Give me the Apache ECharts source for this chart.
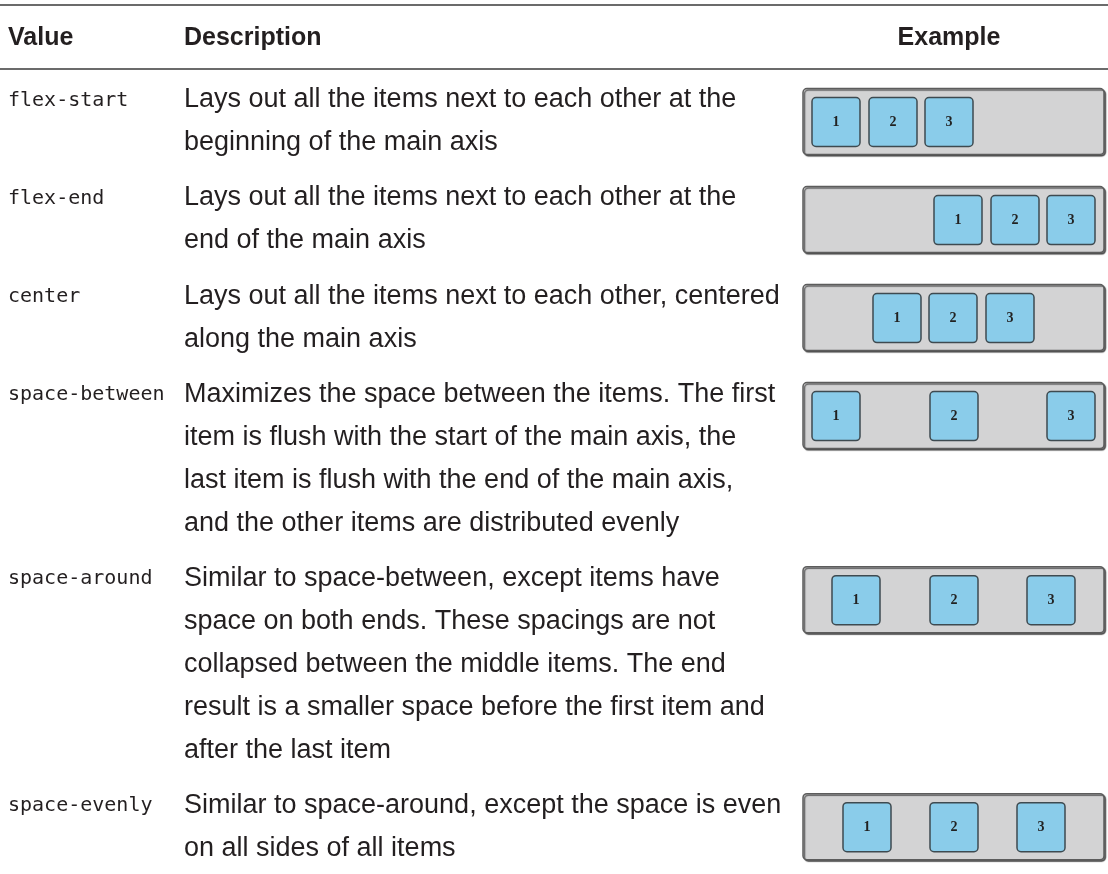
<!DOCTYPE html>
<html>
<head>
<meta charset="utf-8">
<script src="https://cdn.jsdelivr.net/npm/echarts@6/dist/echarts.min.js"></script>
<style>
html,body{margin:0;padding:0;background:#fff;}
#main{width:1108px;height:874px;}
</style>
</head>
<body>
<div id="main"></div>
<script>
// ---- data ----
const headers = ['Value', 'Description', 'Example'];
const values = ['flex-start', 'flex-end', 'center', 'space-between', 'space-around', 'space-evenly'];
const descFlexStart = ['Lays out all the items next to each other at the', 'beginning of the main axis'];
const descFlexEnd = ['Lays out all the items next to each other at the', 'end of the main axis'];
const descCenter = ['Lays out all the items next to each other, centered', 'along the main axis'];
const descSpaceBetween = ['Maximizes the space between the items. The first', 'item is flush with the start of the main axis, the', 'last item is flush with the end of the main axis,', 'and the other items are distributed evenly'];
const descSpaceAround = ['Similar to space-between, except items have', 'space on both ends. These spacings are not', 'collapsed between the middle items. The end', 'result is a smaller space before the first item and', 'after the last item'];
const descSpaceEvenly = ['Similar to space-around, except the space is even', 'on all sides of all items'];
const descriptions = [descFlexStart, descFlexEnd, descCenter, descSpaceBetween, descSpaceAround, descSpaceEvenly];
// left offset (px inside the 301px example container) of items 1, 2, 3
const offsFlexStart = [9, 66, 122];
const offsFlexEnd = [131, 188, 244];
const offsCenter = [70, 126, 183];
const offsSpaceBetween = [9, 127, 244];
const offsSpaceAround = [29, 127, 224];
const offsSpaceEvenly = [40, 127, 214];
const itemOffsets = [offsFlexStart, offsFlexEnd, offsCenter, offsSpaceBetween, offsSpaceAround, offsSpaceEvenly];
const itemLabels = ['1', '2', '3'];

// ---- layout ----
const W = 1108, H = 874;
const LINE = 43;          // px per text line
const FIRST = 100;        // px of first body line centre
const ROWGAP = 0.28;      // extra gap between rows, in line units
const BOX_W = 301;
const COL_VALUE = 8, COL_DESC = 184, BOX_LEFT = 803;
const TXT = '#231f20';

// row start in line units
const rowStart = [];
let acc = 0;
descriptions.forEach((d, i) => { rowStart.push(acc); acc += d.length + ROWGAP; });

const textData = [];
values.forEach((v, i) => {
  textData.push([COL_VALUE, rowStart[i], v, 'mono']);
  descriptions[i].forEach((line, j) => textData.push([COL_DESC, rowStart[i] + j, line, 'body']));
});
const boxData = values.map((v, i) => [0, rowStart[i] + 0.5, i]);

const yMin = -FIRST / LINE, yMax = (H - FIRST) / LINE;

const chart = echarts.init(document.getElementById('main'), null, {renderer: 'canvas'});
chart.setOption({
  animation: false,
  backgroundColor: '#fff',
  grid: [
    {left: 0, top: 0, width: W, height: H},
    {left: BOX_LEFT, top: 0, width: BOX_W, height: H}
  ],
  xAxis: [
    {gridIndex: 0, type: 'value', min: 0, max: W, show: false},
    {gridIndex: 1, type: 'value', min: 0, max: BOX_W, show: false}
  ],
  yAxis: [
    {gridIndex: 0, type: 'value', min: yMin, max: yMax, inverse: true, show: false},
    {gridIndex: 1, type: 'value', min: yMin, max: yMax, inverse: true, show: false}
  ],
  graphic: [
    {type: 'line', shape: {x1: 0, y1: 5, x2: W, y2: 5}, style: {stroke: '#3a3a3a', lineWidth: 1.6}},
    {type: 'line', shape: {x1: 0, y1: 69, x2: W, y2: 69}, style: {stroke: '#3a3a3a', lineWidth: 1.6}},
    {type: 'text', x: COL_VALUE, y: 38, style: {text: headers[0], font: 'bold 25px "Liberation Sans"', fill: TXT, verticalAlign: 'middle'}},
    {type: 'text', x: COL_DESC, y: 38, style: {text: headers[1], font: 'bold 25px "Liberation Sans"', fill: TXT, verticalAlign: 'middle'}},
    {type: 'text', x: 949, y: 38, style: {text: headers[2], font: 'bold 25px "Liberation Sans"', fill: TXT, align: 'center', verticalAlign: 'middle'}}
  ],
  series: [
    {
      type: 'custom', xAxisIndex: 0, yAxisIndex: 0, data: textData,
      renderItem: function (params, api) {
        const p = api.coord([api.value(0), api.value(1)]);
        const d = textData[params.dataIndex];
        return {
          type: 'text', x: p[0], y: p[1] + (d[3] === 'mono' ? 1 : 0),
          style: {
            text: d[2],
            font: d[3] === 'mono' ? '20px "DejaVu Sans Mono"' : '27px "Liberation Sans"',
            fill: TXT, verticalAlign: 'middle'
          }
        };
      }
    },
    {
      type: 'custom', xAxisIndex: 1, yAxisIndex: 1, data: boxData,
      renderItem: function (params, api) {
        const row = boxData[params.dataIndex][2];
        const yc = api.value(1);
        const l = api.coord([0, yc]);
        const r = api.coord([BOX_W, yc]);
        const bh = api.size([0, 66 / LINE])[1];
        const ih = api.size([0, 49 / LINE])[1];
        const iw = api.size([48, 0])[0];
        const children = [{
          type: 'rect',
          shape: {x: l[0], y: l[1] - bh / 2, width: r[0] - l[0], height: bh, r: 4},
          style: {fill: '#d3d3d4', stroke: '#5c5c5c', lineWidth: 1.5,
                  shadowColor: 'rgba(0,0,0,0.55)', shadowOffsetX: 1.5, shadowOffsetY: 1.5, shadowBlur: 1}
        }];
        itemOffsets[row].forEach((off, k) => {
          const p = api.coord([off, yc]);
          children.push({
            type: 'rect',
            shape: {x: p[0], y: p[1] - ih / 2 + 0.5, width: iw, height: ih, r: 4},
            style: {fill: '#8accea', stroke: '#3e4a50', lineWidth: 1.5}
          });
          children.push({
            type: 'text', x: p[0] + iw / 2, y: p[1] + 1,
            style: {text: itemLabels[k], font: 'bold 14px "Liberation Serif"', fill: '#222', align: 'center', verticalAlign: 'middle'}
          });
        });
        return {type: 'group', children: children};
      }
    }
  ]
});
</script>
</body>
</html>
